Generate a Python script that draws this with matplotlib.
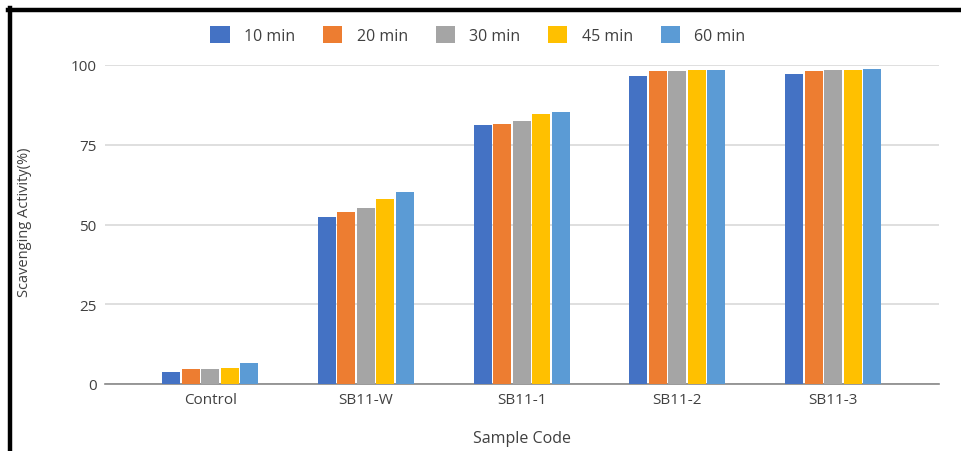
import matplotlib.pyplot as plt
import numpy as np
from matplotlib.lines import Line2D

samples = ['Control', 'SB11-W', 'SB11-1', 'SB11-2', 'SB11-3']
times = ['10 min', '20 min', '30 min', '45 min', '60 min']
colors = ['#4472C4', '#ED7D31', '#A5A5A5', '#FFC000', '#5B9BD5']

v10 = [3.7, 52.4, 81.2, 96.5, 97.3]
v20 = [4.7, 54.0, 81.6, 98.1, 98.1]
v30 = [4.7, 55.2, 82.4, 98.1, 98.4]
v45 = [5.1, 57.9, 84.7, 98.4, 98.4]
v60 = [6.7, 60.2, 85.2, 98.4, 98.8]
series = [v10, v20, v30, v45, v60]

plt.rcParams['font.family'] = ['Open Sans', 'DejaVu Sans']

fig = plt.figure(figsize=(9.62, 4.52), dpi=100)
ax = fig.add_axes([105/962, 1-385/452, (939-105)/962, (385-66)/452])

x = np.arange(len(samples))
pitch = 0.125
for i, (vals, c, t) in enumerate(zip(series, colors, times)):
    ax.bar(x + (i-2)*pitch, vals, width=0.115, color=c, label=t, zorder=3)

ax.set_xlim(-0.675, 4.68)
ax.set_ylim(0, 100)
ax.set_yticks([0, 25, 50, 75, 100])
ax.set_xticks(x)
ax.set_xticklabels(samples)
ax.tick_params(axis='both', length=0, labelsize=11, colors='#404040')
ax.tick_params(axis='y', pad=6)
ax.tick_params(axis='x', pad=6)
ax.grid(axis='y', color='#D9D9D9', linewidth=1.2, zorder=0)
ax.set_axisbelow(True)
for s in ['top', 'right', 'left']:
    ax.spines[s].set_visible(False)
ax.spines['bottom'].set_color('#888888')
ax.spines['bottom'].set_linewidth(1.2)

ax.set_xlabel('Sample Code', fontsize=11.5, color='#404040', labelpad=16)
fig.text(25/962, 1-222/452, 'Scavenging Activity(%)', rotation=90, ha='center', va='center',
         fontsize=10.5, color='#404040')

leg = fig.legend(loc='center', bbox_to_anchor=(478/962, 1-36/452), ncol=5, frameon=False,
                 fontsize=11.5, handlelength=1.2, handleheight=1.2, columnspacing=1.75,
                 handletextpad=0.9)
for t in leg.get_texts():
    t.set_color('#404040')

# frame lines
fig.add_artist(Line2D([8/962, 1], [1-11/452, 1-11/452], color='black', linewidth=3.2))
fig.add_artist(Line2D([10/962, 10/962], [0, 1-9/452], color='black', linewidth=3.2))

fig.savefig('out.png', dpi=100)
